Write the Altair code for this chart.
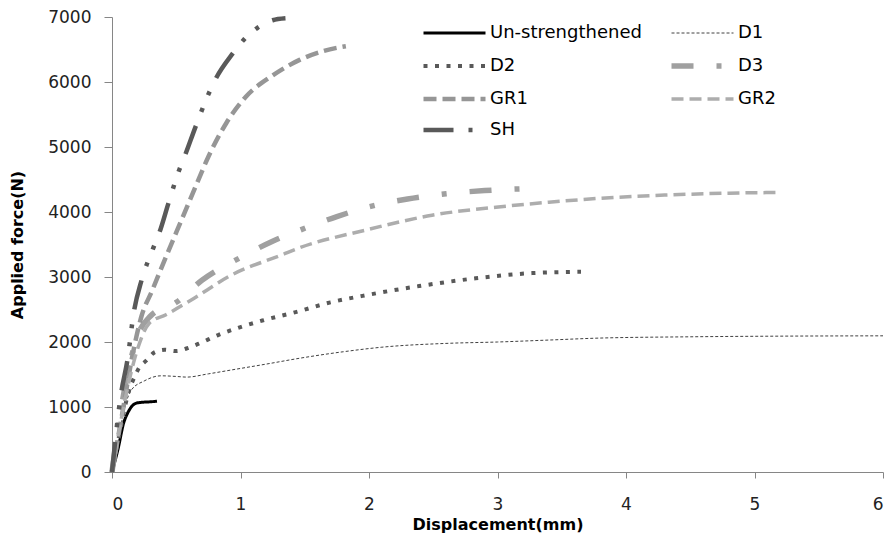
import altair as alt
import pandas as pd

series_names = ["Un-strengthened", "D1", "D2", "D3", "GR1", "GR2", "SH"]

un_x = [0, 0.05, 0.09, 0.12, 0.15, 0.19, 0.25, 0.3, 0.35]
un_y = [0, 380, 750, 900, 1000, 1060, 1075, 1080, 1090]

d1_x = [0, 0.05, 0.1, 0.15, 0.25, 0.38, 0.5, 0.58, 0.75, 0.93, 1.2, 1.46, 1.8, 2.1, 2.62, 3.0, 3.4, 3.79, 4.5, 5.2, 6.0]
d1_y = [0, 500, 1000, 1260, 1400, 1480, 1470, 1460, 1510, 1570, 1660, 1750, 1850, 1920, 1980, 2000, 2030, 2060, 2080, 2090, 2095]

d2_x = [0, 0.05, 0.1, 0.14, 0.17, 0.21, 0.27, 0.33, 0.41, 0.5, 0.58, 0.67, 0.83, 1.0, 1.17, 1.43, 1.7, 1.95, 2.39, 2.83, 3.27, 3.65]
d2_y = [0, 500, 1000, 1300, 1440, 1600, 1720, 1840, 1880, 1860, 1900, 1970, 2110, 2230, 2330, 2460, 2610, 2710, 2860, 2980, 3060, 3080]

d3_x = [0, 0.1, 0.2, 0.3, 0.5, 0.7, 1.0, 1.25, 1.5, 1.75, 2.0, 2.3, 2.6, 2.9, 3.25]
d3_y = [0, 1300, 2100, 2400, 2610, 2950, 3300, 3550, 3750, 3930, 4080, 4200, 4280, 4330, 4360]

gr1_x = [0, 0.08, 0.16, 0.23, 0.31, 0.42, 0.55, 0.65, 0.75, 0.89, 1.04, 1.25, 1.46, 1.65, 1.82]
gr1_y = [0, 900, 1800, 2400, 2780, 3310, 3920, 4390, 4850, 5370, 5770, 6100, 6340, 6480, 6550]

gr2_x = [0, 0.1, 0.2, 0.29, 0.42, 0.62, 0.93, 1.32, 1.46, 1.97, 2.49, 3.07, 3.4, 3.79, 4.3, 4.8, 5.18]
gr2_y = [0, 1100, 1900, 2290, 2420, 2650, 3030, 3340, 3450, 3720, 3950, 4090, 4150, 4210, 4260, 4290, 4300]

sh_x = [0, 0.07, 0.12, 0.17, 0.23, 0.32, 0.37, 0.44, 0.52, 0.57, 0.65, 0.75, 0.81, 0.94, 1.03, 1.13, 1.25, 1.35]
sh_y = [0, 1200, 1720, 2460, 2950, 3440, 3690, 4140, 4630, 4880, 5310, 5810, 6060, 6440, 6660, 6830, 6950, 6980]

x_ticks = [0, 1, 2, 3, 4, 5, 6]
y_ticks = [0, 1000, 2000, 3000, 4000, 5000, 6000, 7000]

# styles (butt caps, so the same dash patterns read well in both the plot and the legend)
colors = {"Un-strengthened": "#000000", "D1": "#404040", "D2": "#595959", "D3": "#A0A0A0",
          "GR1": "#969696", "GR2": "#ADADAD", "SH": "#595959"}
widths = {"Un-strengthened": 3, "D1": 1, "D2": 4, "D3": 5.5, "GR1": 4.5, "GR2": 3.5, "SH": 4.5}
dashes = {"Un-strengthened": [1, 0], "D1": [3, 2], "D2": [4, 7.5], "D3": [22, 23, 5, 23],
          "GR1": [13, 6], "GR2": [12, 6], "SH": [30, 15, 4, 14, 4, 15]}

# legend is laid out column by column: order entries so rows read as in the original
legend_order = ["Un-strengthened", "D2", "GR1", "SH", "D1", "D3", "GR2"]

all_x = [un_x, d1_x, d2_x, d3_x, gr1_x, gr2_x, sh_x]
all_y = [un_y, d1_y, d2_y, d3_y, gr1_y, gr2_y, sh_y]

rows = []
for name, xs, ys in zip(series_names, all_x, all_y):
    for i, (xv, yv) in enumerate(zip(xs, ys)):
        rows.append({"series": name, "disp": xv, "force": yv, "order": i, "sw": widths[name]})
df = pd.DataFrame(rows)


def expr_map(d, default):
    out = default
    for k, v in d.items():
        out = f"datum.value == '{k}' ? {v} : ({out})"
    return out


FONT = "DejaVu Sans"

legend = alt.Legend(
    title=None, orient="none", legendX=318, legendY=7, columns=2,
    symbolType="M-1,0H3", symbolSize=961, symbolFillColor="transparent", symbolOpacity=1,
    symbolStrokeWidth=alt.ExprRef(expr_map(widths, "2")),
    labelFontSize=18, labelFont=FONT, labelColor="#000000",
    rowPadding=13, columnPadding=18, labelOffset=42, labelLimit=300, symbolLimit=0,
)

chart = alt.Chart(df).mark_line(interpolate="monotone").encode(
    x=alt.X("disp:Q", scale=alt.Scale(domain=[0, 6], nice=False),
            axis=alt.Axis(values=x_ticks, title="Displacement(mm)", format="d")),
    y=alt.Y("force:Q", scale=alt.Scale(domain=[0, 7000], nice=False),
            axis=alt.Axis(values=y_ticks, title="Applied force(N)", format="d")),
    color=alt.Color("series:N", scale=alt.Scale(domain=legend_order, range=[colors[s] for s in legend_order]),
                    legend=legend),
    strokeDash=alt.StrokeDash("series:N", scale=alt.Scale(domain=legend_order, range=[dashes[s] for s in legend_order]),
                              legend=legend),
    strokeWidth=alt.StrokeWidth("sw:Q", scale=None, legend=None),
    order="order:Q",
).properties(
    width=771, height=455,
    padding={"left": 112, "top": 17, "right": 10, "bottom": 72},
    autosize=alt.AutoSizeParams(type="none"),
).configure_view(stroke=None).configure_axis(
    grid=False, domainColor="#868686", tickColor="#868686", tickSize=8,
    labelFont=FONT, labelFontSize=17, labelColor="#222222",
    titleFont=FONT, titleFontSize=16, titleFontWeight="bold", titleColor="#000000",
).configure_axisX(labelPadding=18, titlePadding=4, tickSize=6).configure_axisY(labelPadding=13, titlePadding=22)

chart.save("out.html", embed_options={"renderer": "svg", "actions": False})
